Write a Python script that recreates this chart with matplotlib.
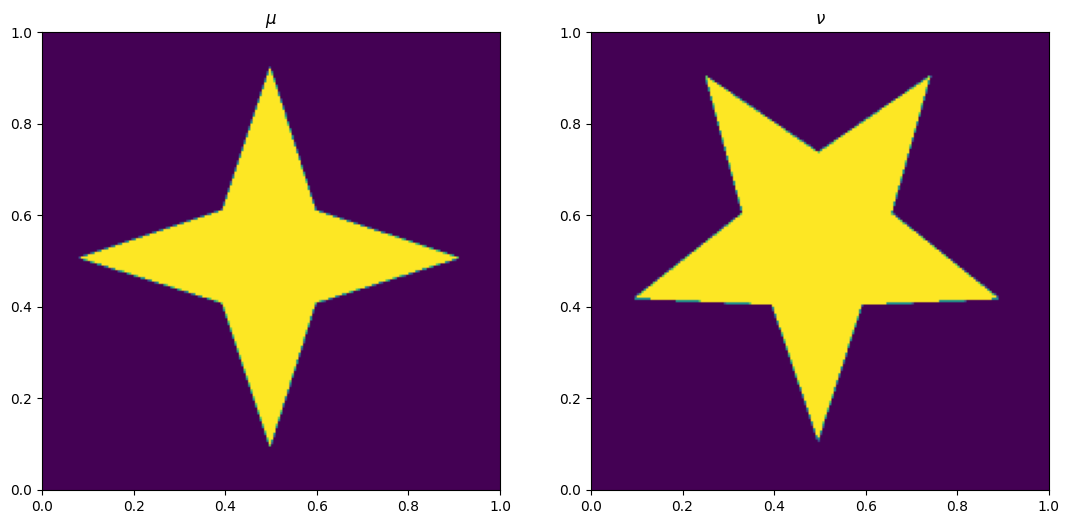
import numpy as np
import matplotlib
matplotlib.use("Agg")
import matplotlib.pyplot as plt
from matplotlib.path import Path

# star vertices (x, y) in the unit square
mu_x = [0.498, 0.598, 0.913, 0.598, 0.498, 0.393, 0.079, 0.393]
mu_y = [0.926, 0.611, 0.507, 0.408, 0.092, 0.408, 0.507, 0.611]
nu_x = [0.496, 0.742, 0.657, 0.893, 0.592, 0.496, 0.395, 0.093, 0.330, 0.249]
nu_y = [0.738, 0.906, 0.605, 0.417, 0.404, 0.107, 0.404, 0.418, 0.605, 0.906]

n = 200
ss = 2


def rasterize(xs, ys):
    g = (np.arange(n * ss) + 0.5) / (n * ss)
    X, Y = np.meshgrid(g, g)
    p = Path(np.column_stack([xs, ys]))
    m = p.contains_points(np.column_stack([X.ravel(), Y.ravel()]))
    m = m.reshape(n * ss, n * ss).astype(float)
    return m.reshape(n, ss, n, ss).mean(axis=(1, 3))


fig = plt.figure(figsize=(10.7, 5.24), dpi=100)
ax1 = fig.add_axes([0.0393, 0.0649, 0.428, 0.874])
ax2 = fig.add_axes([0.5523, 0.0649, 0.428, 0.874])

ax1.imshow(rasterize(mu_x, mu_y), origin="lower", extent=[0, 1, 0, 1], cmap="viridis")
ax1.set_title(r"$\mu$")
ax2.imshow(rasterize(nu_x, nu_y), origin="lower", extent=[0, 1, 0, 1], cmap="viridis")
ax2.set_title(r"$\nu$")

fig.savefig("out.png", dpi=100)
